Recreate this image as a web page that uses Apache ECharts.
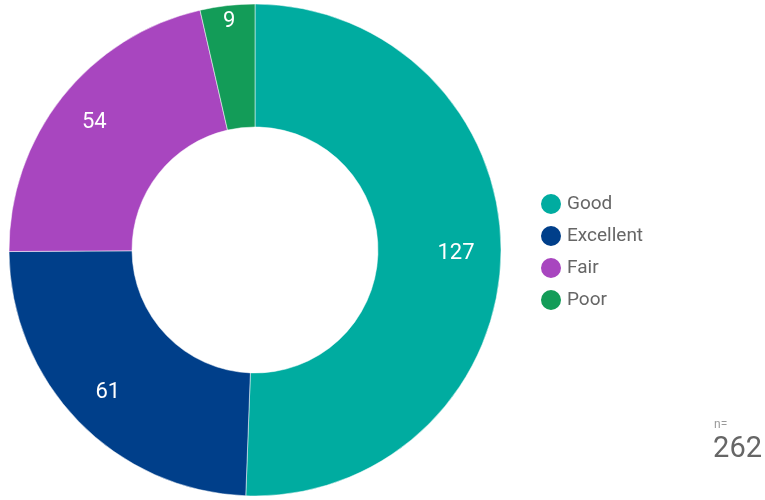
<!DOCTYPE html>
<html><head><meta charset="utf-8">
<script src="https://cdn.jsdelivr.net/npm/echarts@6/dist/echarts.min.js"></script>
<style>html,body{margin:0;padding:0;background:#fff}#c{width:765px;height:500px}</style>
</head><body><div id="c"></div>
<script>
const categories = ["Good", "Excellent", "Fair", "Poor"];
const values = [127, 61, 54, 9];
const colors = ["#00aca0", "#003f8a", "#a846bf", "#139c58"];
const totalN = 262;

// label radial distance from centre (style)
const labelRadius = [198, 202, 202, 227];
const midR = (123 + 246) / 2;
const total = values.reduce((a, b) => a + b, 0);
let acc = 0;
const data = categories.map((n, i) => {
  const mid = (acc + values[i] / 2) / total * Math.PI * 2; // clockwise from top
  acc += values[i];
  const d = labelRadius[i] - midR;
  return {name: n, value: values[i], label: {offset: [d * Math.sin(mid), -d * Math.cos(mid)]}};
});

const chart = echarts.init(document.getElementById('c'), null, {renderer: 'canvas'});
chart.setOption({
  animation: false,
  color: colors,
  legend: {
    orient: 'vertical',
    left: 534, top: 187,
    icon: 'circle',
    itemWidth: 22, itemHeight: 22, itemGap: 8,
    textStyle: {fontFamily: 'Roboto', fontSize: 19, lineHeight: 20, color: '#666'},
    data: categories
  },
  graphic: [
    {type: 'text', left: 714, top: 419, style: {text: 'n=', font: '12px Roboto', fill: '#999'}},
    {type: 'text', right: 3, top: 435, style: {text: String(totalN), font: '29px Roboto', fill: '#666'}}
  ],
  series: [{
    type: 'pie',
    center: [255, 250],
    radius: [123, 246],
    startAngle: 90,
    clockwise: true,
    itemStyle: {borderColor: '#fff', borderWidth: 0.5},
    label: {show: true, position: 'inside', color: '#fff', fontFamily: 'Roboto', fontSize: 22, formatter: '{c}'},
    labelLine: {show: false},
    data: data
  }]
});
</script></body></html>
